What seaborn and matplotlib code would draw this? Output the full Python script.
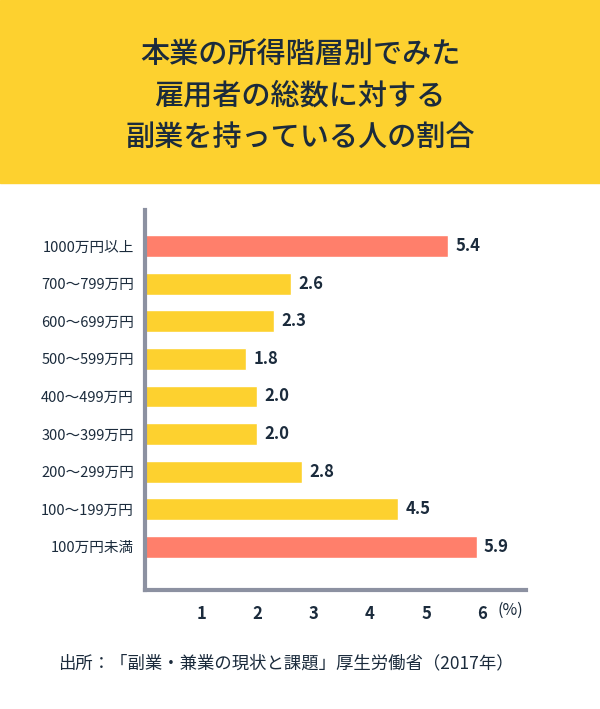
import matplotlib.pyplot as plt
import matplotlib.patches as mpatches
import pandas as pd
import seaborn as sns

# Data
categories = ['1000万円以上', '700〜799万円', '600〜699万円', '500〜599万円', '400〜499万円',
              '300〜399万円', '200〜299万円', '100〜199万円', '100万円未満']
values = [5.4, 2.6, 2.3, 1.8, 2.0, 2.0, 2.8, 4.5, 5.9]
highlight = [True, False, False, False, False, False, False, False, True]
x_ticks = [1, 2, 3, 4, 5, 6]

title = '本業の所得階層別でみた\n雇用者の総数に対する\n副業を持っている人の割合'
source = '出所：「副業・兼業の現状と課題」厚生労働省（2017年）'

YELLOW = '#FDD12F'
CORAL = '#FF7F6B'
NAVY = '#1B2B3C'
GREY = '#8C91A1'

df = pd.DataFrame({'category': categories, 'value': values,
                   'group': ['hi' if h else 'lo' for h in highlight]})

sns.set_theme(style='white')
plt.rcParams['font.family'] = ['Noto Sans CJK JP', 'DejaVu Sans']

fig = plt.figure(figsize=(6, 7.09), dpi=100)
fig.patches.append(mpatches.Rectangle((0, 1 - 183 / 709), 1, 183 / 709,
                                      transform=fig.transFigure, color=YELLOW, zorder=0))
fig.text(0.5, 1 - 96 / 709, title, ha='center', va='center', fontsize=21,
         fontweight='medium', color=NAVY, linespacing=1.45)

ax = fig.add_axes([145 / 600, 1 - 590 / 709, 381 / 600, 380 / 709])
sns.barplot(data=df, x='value', y='category', hue='group', orient='h',
            palette={'hi': CORAL, 'lo': YELLOW}, order=categories,
            width=0.58, legend=False, ax=ax, saturation=1)

for i, v in enumerate(values):
    ax.text(v + 0.13, i, f'{v:.1f}', va='center', ha='left', fontsize=12,
            fontweight='bold', color=NAVY)

ax.set_xlim(0, 6.78)
ax.set_ylim(9.15, -0.96)
ax.set_xticks(x_ticks)
ax.set_xticklabels([str(t) for t in x_ticks], fontsize=12, color=NAVY, fontweight='bold')
ax.tick_params(axis='x', direction='in', length=7, width=3, color=GREY, pad=11)
ax.tick_params(axis='y', length=0, labelsize=10.5, labelcolor=NAVY, pad=8)
ax.set_xlabel('')
ax.set_ylabel('')
for s in ['top', 'right']:
    ax.spines[s].set_visible(False)
for s in ['left', 'bottom']:
    ax.spines[s].set_color(GREY)
    ax.spines[s].set_linewidth(3)
ax.text(6.27, -0.053, '(%)', transform=ax.get_xaxis_transform(), va='center', ha='left',
        fontsize=11.5, color=NAVY)

fig.text(0.477, 1 - 663 / 709, source, ha='center', va='center', fontsize=12.5, color=NAVY)

fig.savefig('out.png', dpi=100)
